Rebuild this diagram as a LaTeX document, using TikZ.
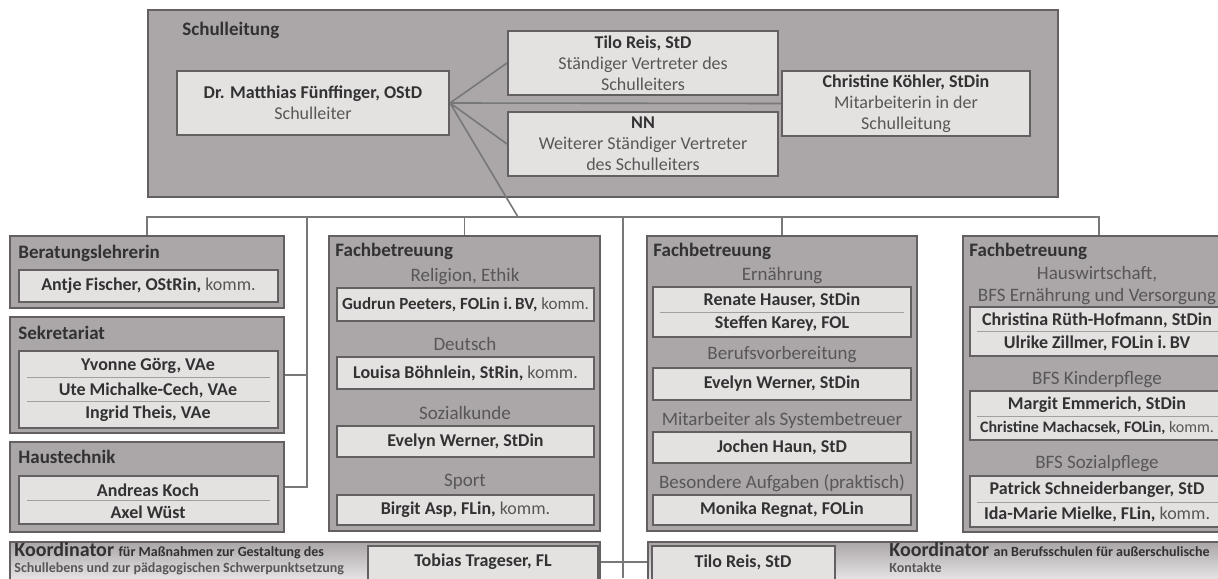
\documentclass[tikz,border=0pt]{standalone}
\usepackage{fontspec}
\setmainfont{Carlito}
\usetikzlibrary{fit}
\definecolor{gruppegrau}{RGB}{171,166,167}
\definecolor{personhell}{RGB}{228,225,225}
\definecolor{rahmen}{RGB}{100,96,97}
\definecolor{linie}{RGB}{120,120,120}
\definecolor{dunkel}{RGB}{50,50,50}
\definecolor{hell}{RGB}{88,86,86}
\newcommand{\komm}{\textcolor{hell}{\mdseries komm.}}
\newcommand{\rolle}[1]{\textcolor{hell}{\mdseries #1}}
\newcommand{\klein}[1]{{\fontsize{7}{8}\selectfont #1}}

\begin{document}
\begin{tikzpicture}[x=0.5pt, y=-0.5pt,
    font=\fontsize{9}{10.5}\selectfont, text=dunkel,
    gruppe/.style={draw=rahmen, line width=1pt, fill=gruppegrau, inner sep=0pt},
    person/.style={draw=rahmen, line width=1pt, fill=personhell, inner sep=0pt},
    inhalt/.style={inner sep=0pt, align=center, font=\fontsize{9}{10.5}\selectfont\bfseries},
    eintrag/.style={inner sep=0pt, font=\fontsize{9}{10.5}\selectfont\bfseries},
    titel/.style={anchor=west, inner sep=0pt, font=\fontsize{9.5}{11}\selectfont\bfseries},
    fach/.style={inner sep=0pt, align=center, text=hell, font=\fontsize{9.5}{11}\selectfont},
    koord/.style={draw=rahmen, line width=1pt, top color=gruppegrau, bottom color=gruppegrau!25, inner sep=0pt},
    verbinder/.style={draw=linie, line width=0.8pt},
    trenner/.style={draw=linie!70, line width=0.5pt}]
    \path[fill=white, use as bounding box] (0,0) rectangle (1218,578);

    \node[gruppe, fit={(148,10) (1058,197)}] (sl) {};
    \node[titel] (slTitel) at (182,30) {Schulleitung};
    \node[person, fit={(177,71) (449,135)}] (dr) {};
    \node[inhalt] at (dr) {Dr. Matthias Fünffinger, OStD\\\rolle{Schulleiter}};
    \node[person, fit={(508,31) (778,95)}] (tilo) {};
    \node[inhalt] at (tilo) {Tilo Reis, StD\\\rolle{Ständiger Vertreter des}\\\rolle{Schulleiters}};
    \node[person, fit={(508,112) (778,176)}] (nn) {};
    \node[inhalt] at (nn) {NN\\\rolle{Weiterer Ständiger Vertreter}\\\rolle{des Schulleiters}};
    \node[person, fit={(782,71) (1030,136)}] (christine) {};
    \node[inhalt] at (christine) {Christine Köhler, StDin\\\rolle{Mitarbeiterin in der}\\\rolle{Schulleitung}};

    \node[gruppe, fit={(10,236) (284,308)}] (berat) {};
    \node[titel] at (18,253) {Beratungslehrerin};
    \node[person, fit={(19,270) (278,302)}] (antje) {};
    \node[inhalt] at (antje) {Antje Fischer, OStRin, \komm};

    \node[gruppe, fit={(10,317) (284,433)}] (sekr) {};
    \node[titel] at (18,333) {Sekretariat};
    \node[person, fit={(19,351) (278,428)}] (sekrP) {};
    \node[eintrag] (yvonne) at (148,366) {Yvonne Görg, VAe};
    \node[eintrag] (ute) at (148,390) {Ute Michalke-Cech, VAe};
    \node[eintrag] (ingrid) at (148,414) {Ingrid Theis, VAe};
    \draw[trenner] (27,377) -- (270,377) (27,401) -- (270,401);

    \node[gruppe, fit={(10,442) (284,532)}] (haus) {};
    \node[titel] at (18,457) {Haustechnik};
    \node[person, fit={(19,476) (278,524)}] (hausP) {};
    \node[eintrag] (andreas) at (148,490) {Andreas Koch};
    \node[eintrag] (axel) at (148,512) {Axel Wüst};
    \draw[trenner] (27,500) -- (270,500);

    \node[gruppe, fit={(329,236) (600,531)}] (fb2) {};
    \node[titel] at (335,251) {Fachbetreuung};
    \node[fach] at (465,277) {Religion, Ethik};
    \node[person, fit={(337,288) (594,321)}] (gudrun) {};
    \node[inhalt, font=\fontsize{8.5}{10}\selectfont\bfseries] at (gudrun) {Gudrun Peeters, FOLin i.\,BV, \komm};
    \node[fach] at (465,344) {Deutsch};
    \node[person, fit={(337,357) (594,389)}] (louisa) {};
    \node[inhalt] at (louisa) {Louisa Böhnlein, StRin, \komm};
    \node[fach] at (465,413) {Sozialkunde};
    \node[person, fit={(337,426) (594,457)}] (evelyn) {};
    \node[inhalt] at (evelyn) {Evelyn Werner, StDin};
    \node[fach] at (465,482) {Sport};
    \node[person, fit={(337,495) (594,525)}] (birgit) {};
    \node[inhalt] at (birgit) {Birgit Asp, FLin, \komm};

    \node[gruppe, fit={(647,236) (917,531)}] (fb3) {};
    \node[titel] at (653,251) {Fachbetreuung};
    \node[fach] at (782,276) {Ernährung};
    \node[person, fit={(653,287) (911,337)}] (ernP) {};
    \node[eintrag] (renate) at (782,300) {Renate Hauser, StDin};
    \node[eintrag] (steffen) at (782,324) {Steffen Karey, FOL};
    \draw[trenner] (660,312) -- (904,312);
    \node[fach] at (782,355) {Berufsvorbereitung};
    \node[person, fit={(653,368) (911,400)}] (evelyn2) {};
    \node[inhalt] at (evelyn2) {Evelyn Werner, StDin};
    \node[fach] at (782,420) {Mitarbeiter als Systembetreuer};
    \node[person, fit={(653,432) (911,463)}] (jochen) {};
    \node[inhalt] at (jochen) {Jochen Haun, StD};
    \node[fach] at (782,483) {Besondere Aufgaben (praktisch)};
    \node[person, fit={(653,495) (911,525)}] (monika) {};
    \node[inhalt] at (monika) {Monika Regnat, FOLin};

    \node[gruppe, fit={(963,236) (1235,532)}] (fb4) {};
    \node[titel] at (969,251) {Fachbetreuung};
    \node[fach] at (1097,286) {Hauswirtschaft,\\BFS Ernährung und Versorgung};
    \node[person, fit={(970,307) (1228,356)}] (hwP) {};
    \node[eintrag] (christina) at (1097,320) {Christina Rüth-Hofmann, StDin};
    \node[eintrag] (ulrike) at (1097,343) {Ulrike Zillmer, FOLin i.\,BV};
    \draw[trenner] (977,331) -- (1221,331);
    \node[fach] at (1097,380) {BFS Kinderpflege};
    \node[person, fit={(970,391) (1228,440)}] (kpP) {};
    \node[eintrag] (margit) at (1097,405) {Margit Emmerich, StDin};
    \node[eintrag, font=\fontsize{8}{9}\selectfont\bfseries] (machacsek) at (1097,428) {Christine Machacsek, FOLin, \komm};
    \draw[trenner] (977,416) -- (1221,416);
    \node[fach] at (1097,464) {BFS Sozialpflege};
    \node[person, fit={(970,476) (1228,527)}] (spP) {};
    \node[eintrag] (patrick) at (1097,490) {Patrick Schneiderbanger, StD};
    \node[eintrag] (idamarie) at (1097,514) {Ida-Marie Mielke, FLin, \komm};
    \draw[trenner] (977,502) -- (1221,502);

    \node[koord, fit={(10,542) (600,582)}] (koordL) {};
    \node[titel, anchor=base west, font=\fontsize{10}{12}\selectfont\bfseries] at (14,556) {Koordinator \klein{für Maßnahmen zur Gestaltung des}};
    \node[titel, anchor=base west, text=hell, font=\fontsize{7}{8}\selectfont\bfseries] at (14,572) {Schullebens und zur pädagogischen Schwerpunktsetzung};
    \node[person, fit={(368,546) (598,582)}] (tobias) {};
    \node[inhalt] at (483,562) {Tobias Trageser, FL};

    \node[koord, fit={(648,542) (1235,582)}] (koordR) {};
    \node[person, fit={(652,546) (835,582)}] (tilo2) {};
    \node[inhalt] at (743,562) {Tilo Reis, StD};
    \node[titel, anchor=base west, font=\fontsize{10}{12}\selectfont\bfseries] at (889,556) {Koordinator \klein{an Berufsschulen für außerschulische}};
    \node[titel, anchor=base west, text=hell, font=\fontsize{7}{8}\selectfont\bfseries] at (889,572) {Kontakte};

    \coordinate (bk) at (518,217);
    \coordinate (lv) at (307,217);
    \coordinate (mv) at (623,217);
    \coordinate (mvEnde) at (623,578);
    \draw[verbinder] (dr.east) -- (tilo.west) (dr.east) -- (christine.west)
        (dr.east) -- (nn.west) (dr.east) -- (bk);
    \draw[verbinder] (berat.north) |- (bk) -| (fb4.north);
    \draw[verbinder] (fb2.north) -- (fb2.north |- bk);
    \draw[verbinder] (fb3.north) -- (fb3.north |- bk);
    \draw[verbinder] (sekr.east) -| (lv);
    \draw[verbinder] (haus.east) -| (lv);
    \draw[verbinder] (mv) -- (mvEnde);
    \draw[verbinder] (koordL.east) -- (koordR.west);
\end{tikzpicture}
\end{document}
